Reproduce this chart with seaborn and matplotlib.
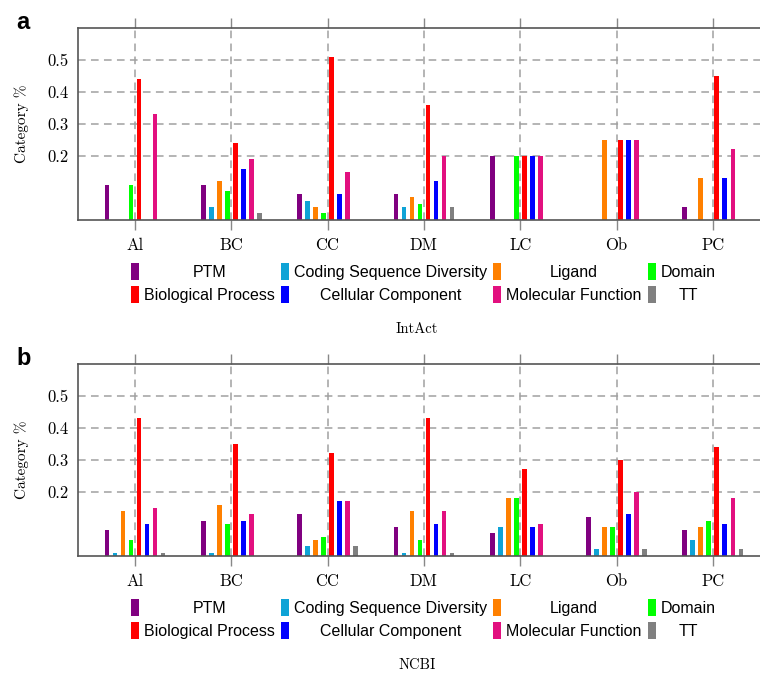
import numpy as np
import pandas as pd
import matplotlib
matplotlib.use('Agg')
import matplotlib.pyplot as plt
import seaborn as sns
from matplotlib.patches import Patch

# Datasets (x categories) and annotation categories (hue)
datasets = ['Al', 'BC', 'CC', 'DM', 'LC', 'Ob', 'PC']
categories = ['PTM', 'Coding Sequence Diversity', 'Ligand', 'Domain',
              'Biological Process', 'Cellular Component', 'Molecular Function', 'TT']
colors = ['#800080', '#0ea3d6', '#ff8000', '#00ff00',
          '#ff0000', '#0000ff', '#e2107f', '#808080']

# IntAct, one list per category, values for Al..PC
intact_ptm = [0.11, 0.11, 0.08, 0.08, 0.20, 0.00, 0.04]
intact_csd = [0.00, 0.04, 0.06, 0.04, 0.00, 0.00, 0.00]
intact_ligand = [0.00, 0.12, 0.04, 0.07, 0.00, 0.25, 0.13]
intact_domain = [0.11, 0.09, 0.02, 0.05, 0.20, 0.00, 0.00]
intact_bp = [0.44, 0.24, 0.51, 0.36, 0.20, 0.25, 0.45]
intact_cc = [0.00, 0.16, 0.08, 0.12, 0.20, 0.25, 0.13]
intact_mf = [0.33, 0.19, 0.15, 0.20, 0.20, 0.25, 0.22]
intact_tt = [0.00, 0.02, 0.00, 0.04, 0.00, 0.00, 0.00]

# NCBI
ncbi_ptm = [0.08, 0.11, 0.13, 0.09, 0.07, 0.12, 0.08]
ncbi_csd = [0.01, 0.01, 0.03, 0.01, 0.09, 0.02, 0.05]
ncbi_ligand = [0.14, 0.16, 0.05, 0.14, 0.18, 0.09, 0.09]
ncbi_domain = [0.05, 0.10, 0.06, 0.05, 0.18, 0.09, 0.11]
ncbi_bp = [0.43, 0.35, 0.32, 0.43, 0.27, 0.30, 0.34]
ncbi_cc = [0.10, 0.11, 0.17, 0.10, 0.09, 0.13, 0.10]
ncbi_mf = [0.15, 0.13, 0.17, 0.14, 0.10, 0.20, 0.18]
ncbi_tt = [0.01, 0.00, 0.03, 0.01, 0.00, 0.02, 0.02]

intact = [intact_ptm, intact_csd, intact_ligand, intact_domain,
          intact_bp, intact_cc, intact_mf, intact_tt]
ncbi = [ncbi_ptm, ncbi_csd, ncbi_ligand, ncbi_domain,
        ncbi_bp, ncbi_cc, ncbi_mf, ncbi_tt]


def to_long(series):
    rows = []
    for cat, vals in zip(categories, series):
        for ds, v in zip(datasets, vals):
            rows.append({'dataset': ds, 'category': cat, 'value': v})
    return pd.DataFrame(rows)


sns.set_theme(style='white')
plt.rcParams['text.color'] = 'black'
plt.rcParams['xtick.labelcolor'] = 'black'
plt.rcParams['ytick.labelcolor'] = 'black'
plt.rcParams['axes.labelcolor'] = 'black'
palette = dict(zip(categories, colors))
CM = 'cmr10'
W, H = 760, 678

fig = plt.figure(figsize=(W / 100, H / 100), dpi=100)

# panel geometry in pixels: (top, bottom)
panels = [('a', intact, 'IntAct', 28.0, 219.7),
          ('b', ncbi, 'NCBI', 363.7, 555.7)]
left_px = 77.7

for letter, series, xlabel, top, bottom in panels:
    ax = fig.add_axes([left_px / W, 1 - bottom / H, (W - left_px) / W, (bottom - top) / H])
    df = to_long(series)
    sns.barplot(data=df, x='dataset', y='value', hue='category',
                hue_order=categories, order=datasets, palette=palette,
                width=0.665, gap=0.42, errorbar=None, legend=False,
                saturation=1, edgecolor='none', linewidth=0, ax=ax)
    ax.set_xlim(-0.595, 6.49)
    ax.set_ylim(0, 0.6)
    ax.set_yticks([0.2, 0.3, 0.4, 0.5])
    ax.set_yticklabels(['0.2', '0.3', '0.4', '0.5'], fontfamily=CM, fontsize=12)
    ax.set_xticks(range(len(datasets)))
    ax.set_xticklabels(datasets, fontfamily=CM, fontsize=12)
    ax.set_xlabel('')
    ax.set_ylabel('Category %', fontfamily=CM, fontsize=11)
    ax.yaxis.set_label_coords(-0.071, 0.5)

    ax.grid(True, linestyle=(0, (5, 3.5)), color='#a0a0a0', linewidth=1.1)
    ax.set_axisbelow(True)
    ax.tick_params(axis='x', which='both', top=True, bottom=True, direction='out',
                   length=7.5, width=1.0, color='#888888', pad=5.5)
    ax.tick_params(axis='y', length=0, pad=6.3)
    for side in ['left', 'top', 'bottom']:
        ax.spines[side].set_color('#555555')
        ax.spines[side].set_linewidth(1.2)
    ax.spines['right'].set_visible(False)

    # legend: 2 rows x 4 columns (matplotlib fills column first)
    order = [0, 4, 1, 5, 2, 6, 3, 7]
    handles = [Patch(facecolor=colors[i], edgecolor='none') for i in order]
    labels = [categories[i] for i in order]
    leg_top = 263.3 + (bottom - 219.7)
    fig.legend(handles, labels, ncol=4, loc='upper left',
               bbox_to_anchor=(130.7 / W, 1 - leg_top / H),
               frameon=False, borderpad=0, borderaxespad=0,
               handlelength=0.5, handleheight=1.22, handletextpad=0.33,
               columnspacing=0.37, labelspacing=0.39,
               prop={'family': 'Liberation Sans', 'size': 11.5})

    fig.text(417.3 / W, 1 - (329 + bottom - 219.7) / H, xlabel,
             ha='center', va='center', fontfamily=CM, fontsize=10.5)
    fig.text(16 / W, 1 - (top + 1) / H, letter, ha='left', va='baseline',
             fontsize=17, fontweight='bold', fontfamily='Liberation Sans')

# centre the legend texts within their columns
fig.canvas.draw()
renderer = fig.canvas.get_renderer()
for leg in fig.legends:
    texts = leg.get_texts()
    for c in range(4):
        pair = texts[2 * c:2 * c + 2]
        widths = [t.get_window_extent(renderer).width for t in pair]
        wmax = max(widths)
        for t, w in zip(pair, widths):
            t.set_position(((wmax - w) / 2, 0))

fig.savefig('out.png', dpi=100)
